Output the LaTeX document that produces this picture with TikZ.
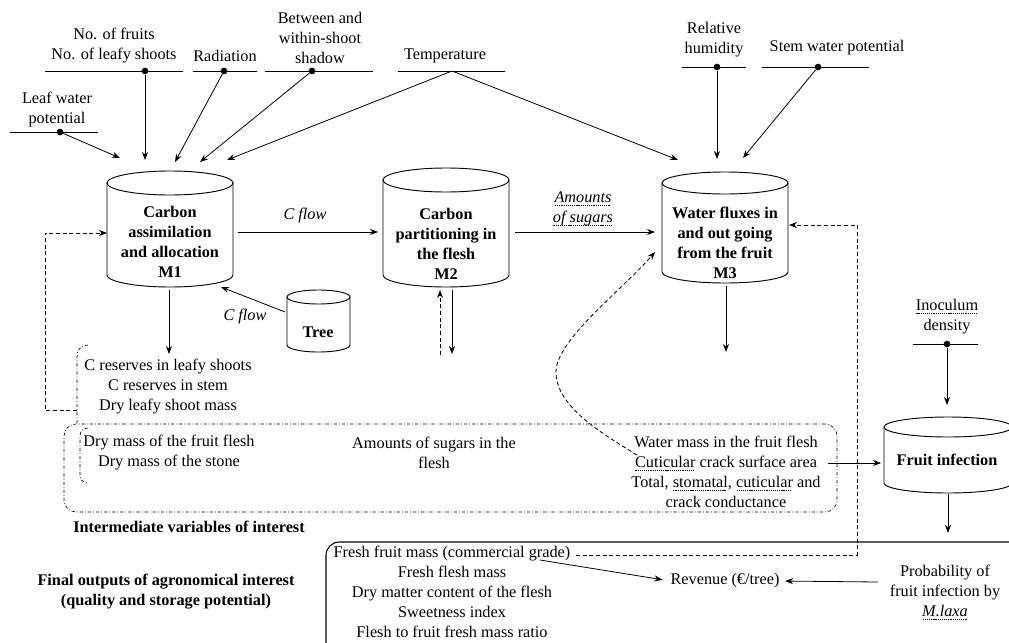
\documentclass[tikz,border=0pt]{standalone}
\usepackage{fontspec}
\setmainfont{Liberation Serif}
\usetikzlibrary{arrows.meta,calc}
\newcommand\wav[1]{\setbox0\hbox{#1}\rlap{\raisebox{-2.2pt}{\hbox to \wd0{\leaders\hbox to 1.6pt{\hss\rule{0.9pt}{0.5pt}\hss}\hfill}}}\box0\relax}
\tikzset{
 every node/.style={font=\fontsize{12.2}{15}\selectfont, inner sep=0pt, align=center},
 ln/.style={line width=0.6pt},
 arr/.style={line width=0.6pt, -{Stealth[length=6pt,width=4.5pt]}},
 darr/.style={arr, dash pattern=on 3pt off 2pt},
 ddot/.style={line width=0.5pt, dash pattern=on 2.5pt off 1.5pt on 0.6pt off 1.5pt},
 inpdot/.style={circle, fill, minimum size=5pt},
 cylline/.style={line width=0.7pt},
 bfx/.style={font=\fontsize{12.2}{15}\selectfont\bfseries},
 itx/.style={font=\fontsize{12.2}{15}\selectfont\itshape},
}
\newcommand\mycyl[6]{%
  \node[minimum width={2*#5*0.75pt}, minimum height={(#4-#3)*0.75pt}] (#1) at (#2,{(#3+#4)/2}) {};
  \draw[cylline] (#2,#3) ellipse [x radius=#5, y radius=#6];
  \draw[cylline] ({#2-#5},#3) -- ({#2-#5},#4) .. controls ({#2-#5},{#4+0.552*#6}) and ({#2-0.552*#5},{#4+#6}) .. (#2,{#4+#6}) .. controls ({#2+0.552*#5},{#4+#6}) and ({#2+#5},{#4+0.552*#6}) .. ({#2+#5},#4) -- ({#2+#5},#3);
}
\begin{document}
\begin{tikzpicture}[x=0.75pt,y=-0.75pt]
\useasboundingbox (0,0) rectangle (1009,642);
\clip (0,0) rectangle (1009,642);

% ---------- inputs ----------
\node (tLW) at (57,110) {Leaf water\\potential};
\draw[ln] (10,132) -- (98,132);
\node[inpdot] (dLW) at (60,132) {};

\node (tNF) at (114,46) {No. of fruits\\No. of leafy shoots};
\draw[ln] (45,71) -- (183,71);
\node[inpdot] (dNF) at (145,71) {};

\node (tRA) at (225,56) {Radiation};
\draw[ln] (193,71) -- (257,71);
\node[inpdot] (dRA) at (224,71) {};

\node (tBS) at (320,38) {Between and\\within-shoot\\shadow};
\draw[ln] (265,71) -- (373,71);
\node[inpdot] (dBS) at (312,71) {};

\node (tTE) at (445,56) {Temperature};
\draw[ln] (398,71) -- (505,71);
\coordinate (cTE) at (452,71);

\node (tRH) at (714,40) {Relative\\humidity};
\draw[ln] (682,67) -- (746,67);
\node[inpdot] (dRH) at (717,67) {};

\node (tSW) at (837,48) {Stem water potential};
\draw[ln] (762,67) -- (869,67);
\node[inpdot] (dSW) at (818,67) {};

\node (tID) at (947,317) {\wav{Inoculum}\\density};
\draw[ln] (913,344) -- (978,344);
\node[inpdot] (dID) at (947,344) {};

% ---------- cylinders ----------
\mycyl{m1}{170}{183}{275}{63}{12}
\mycyl{m2}{446}{180}{275}{63}{12}
\mycyl{m3}{725}{183}{272}{63}{11}
\mycyl{tree}{318.5}{297}{345}{31.5}{7}
\mycyl{fi}{948}{427}{483}{64}{10}

\node[bfx] (m1t) at (170,242) {Carbon\\assimilation\\and allocation\\M1};
\node[bfx] (m2t) at (446,244) {Carbon\\partitioning in\\the flesh\\M2};
\node[bfx] (m3t) at (725,243) {Water fluxes in\\and out going\\from the fruit\\M3};
\node[bfx] (treet) at (318,332) {Tree};
\node[bfx] (fit) at (947,460) {Fruit infection};

% ---------- arrow targets ----------
\coordinate (aLW) at (120,158);
\coordinate (aNF) at (145,160);
\coordinate (aRA) at (175,162);
\coordinate (aBS) at (200,162);
\coordinate (aTE1) at (227,160);
\coordinate (aTE2) at (678,160);
\coordinate (aRH) at (717,159);
\coordinate (aSW) at (743,158);
\coordinate (aID) at (947,405);

\draw[arr] (dLW) -- (aLW);
\draw[arr] (dNF) -- (aNF);
\draw[arr] (dRA) -- (aRA);
\draw[arr] (dBS) -- (aBS);
\draw[arr] (cTE) -- (aTE1);
\draw[arr] (cTE) -- (aTE2);
\draw[arr] (dRH) -- (aRH);
\draw[arr] (dSW) -- (aSW);
\draw[arr] (dID) -- (aID);

% ---------- flows between models ----------
\coordinate (m1o) at (238,232);
\coordinate (m2i) at (378,232);
\draw[arr] (m1o) -- (m2i);
\node[itx] (cf1) at (305,216) {C flow};

\coordinate (m2o) at (515,232);
\coordinate (m3i) at (655,232);
\draw[arr] (m2o) -- (m3i);
\node[itx] (aos) at (583,209) {\wav{Amounts}\\\wav{of sugars}};

\coordinate (tro) at (285,312);
\coordinate (m1tr) at (221,287);
\draw[arr] (tro) -- (m1tr);
\node[itx] (cf2) at (245,317) {C flow};

\coordinate (m1d0) at (169,290);
\coordinate (m1d1) at (169,354);
\draw[arr] (m1d0) -- (m1d1);

\coordinate (m2u0) at (440,355);
\coordinate (m2u1) at (440,290);
\draw[darr] (m2u0) -- (m2u1);
\coordinate (m2d0) at (452,290);
\coordinate (m2d1) at (452,354);
\draw[arr] (m2d0) -- (m2d1);

\coordinate (m3d0) at (726,286);
\coordinate (m3d1) at (726,352);
\draw[arr] (m3d0) -- (m3d1);

% ---------- C reserves ----------
\node (cres) at (168,387) {C reserves in leafy shoots\\C reserves in stem\\Dry leafy shoot mass};
\draw[ddot] (88,345) .. controls (80,346) and (77,350) .. (77,357) -- (77,424);
\coordinate (fb0) at (77,410);
\coordinate (fb1) at (107,233);
\draw[darr] (fb0) -- ++(-32,0) |- (fb1);

% ---------- intermediate box ----------
\node[draw, ddot, rounded corners=9pt, minimum width={773*0.75pt}, minimum height={88*0.75pt}] (ibox) at (450.5,468) {};
\draw[ddot] (88,428) .. controls (81,429) and (80,432) .. (80,437) -- (80,474) .. controls (80,479) and (81,482) .. (88,483);
\node (dm) at (169,453) {Dry mass of the fruit flesh\\Dry mass of the stone};
\node (as) at (434,453) {Amounts of sugars in the\\flesh};
\node (wm) at (726,472) {Water mass in the fruit flesh\\\wav{Cuticular} crack surface area\\Total, \wav{stomatal}, \wav{cuticular} and\\crack conductance};
\node[bfx, anchor=west] (iv) at (73,527) {Intermediate variables of interest};

\coordinate (cc0) at (637,455);
\coordinate (cc1) at (556,372);
\coordinate (cc2) at (655,252);
\draw[darr] (cc0) .. controls (603,434) and (556,407) .. (cc1) .. controls (556,340) and (622,290) .. (cc2);

\coordinate (wmr) at (828,463);
\draw[arr, shorten >=2pt] (wmr) -- (fi.west |- wmr);

\coordinate (fid0) at (948,494);
\coordinate (fid1) at (948,533);
\draw[arr] (fid0) -- (fid1);

% ---------- final outputs ----------
\node[draw, line width=0.8pt, rounded corners=10pt, minimum width={714*0.75pt}, minimum height={138*0.75pt}] (obox) at (683,611) {};
\node[bfx] (fo) at (166,592) {Final outputs of agronomical interest\\(quality and storage potential)};
\node (ol) at (452,592) {Fresh fruit mass (commercial grade)\\Fresh flesh mass\\Dry matter content of the flesh\\Sweetness index\\Flesh to fruit fresh mass ratio};
\node (rev) at (725,581) {Revenue (€/tree)};
\node (prob) at (945,592) {Probability of\\fruit infection by\\\textit{\wav{M.laxa}}};

\coordinate (ffe) at (576,555);
\coordinate (m3r) at (789,225);
\draw[darr] (ffe) -- ++(281,0) |- (m3r);

\coordinate (cg) at (540,560);
\draw[arr, shorten >=6pt] (cg) -- (rev.west);
\coordinate (pr0) at (878,582);
\draw[arr, shorten >=4pt] (pr0) -- (rev.east);
\end{tikzpicture}
\end{document}
